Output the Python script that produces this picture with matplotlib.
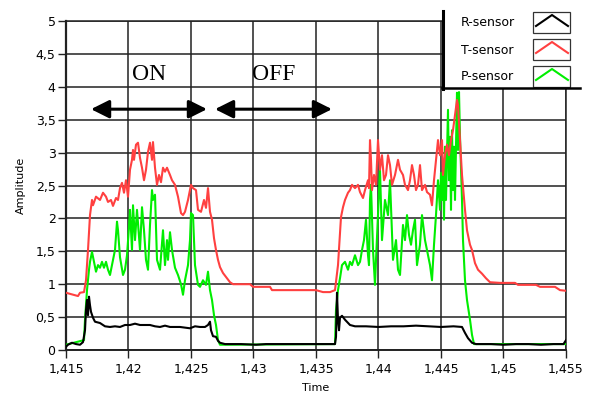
import matplotlib
matplotlib.use("Agg")
import matplotlib.pyplot as plt
from matplotlib.patches import Rectangle
from matplotlib.lines import Line2D
from matplotlib.ticker import FuncFormatter

# ---------------- data ----------------
t_T = [1.41500, 1.41596, 1.41612, 1.41644, 1.41660, 1.41676, 1.41692, 1.41708, 1.41716, 1.41740,
       1.41772, 1.41796, 1.41820, 1.41836, 1.41860, 1.41876, 1.41900, 1.41916, 1.41932, 1.41948,
       1.41964, 1.41980, 1.41996, 1.42012, 1.42028, 1.42036, 1.42044, 1.42060, 1.42076, 1.42092,
       1.42108, 1.42124, 1.42140, 1.42156, 1.42172, 1.42188, 1.42196, 1.42212, 1.42228, 1.42244,
       1.42260, 1.42276, 1.42292, 1.42308, 1.42332, 1.42348, 1.42372, 1.42396, 1.42420, 1.42436,
       1.42452, 1.42476, 1.42500, 1.42516, 1.42540, 1.42556, 1.42580, 1.42604, 1.42620, 1.42636,
       1.42652, 1.42668, 1.42684, 1.42700, 1.42716, 1.42732, 1.42756, 1.42788, 1.42812, 1.42836,
       1.42972, 1.42996, 1.43132, 1.43148, 1.43500, 1.43556, 1.43612, 1.43652, 1.43676, 1.43700,
       1.43716, 1.43732, 1.43756, 1.43772, 1.43788, 1.43812, 1.43836, 1.43852, 1.43876, 1.43892,
       1.43916, 1.43924, 1.43932, 1.43940, 1.43948, 1.43964, 1.43980, 1.43996, 1.44012, 1.44028,
       1.44044, 1.44060, 1.44076, 1.44092, 1.44108, 1.44132, 1.44156, 1.44172, 1.44196, 1.44212,
       1.44236, 1.44252, 1.44268, 1.44284, 1.44300, 1.44316, 1.44332, 1.44348, 1.44372, 1.44388,
       1.44412, 1.44428, 1.44444, 1.44460, 1.44476, 1.44492, 1.44508, 1.44516, 1.44532, 1.44548,
       1.44564, 1.44580, 1.44596, 1.44612, 1.44628, 1.44636, 1.44652, 1.44668, 1.44692, 1.44708,
       1.44732, 1.44748, 1.44772, 1.44796, 1.44828, 1.44860, 1.44892, 1.44972, 1.45092, 1.45116,
       1.45260, 1.45292, 1.45412, 1.45452, 1.45500]
T_sensor = [0.87, 0.82, 0.87, 0.88, 1.06, 1.52, 2.05, 2.28, 2.20, 2.33,
            2.28, 2.39, 2.33, 2.25, 2.28, 2.19, 2.31, 2.28, 2.46, 2.54,
            2.39, 2.58, 2.33, 2.74, 2.89, 3.04, 2.89, 3.12, 3.15, 2.92,
            2.77, 2.58, 2.74, 3.01, 3.15, 2.89, 3.16, 2.77, 2.51, 2.66,
            2.55, 2.77, 2.71, 2.77, 2.66, 2.58, 2.51, 2.33, 2.08, 2.05,
            2.10, 2.28, 2.51, 2.46, 2.43, 2.13, 2.10, 2.28, 2.16, 2.46,
            2.10, 1.98, 1.70, 1.52, 1.37, 1.26, 1.17, 1.09, 1.03, 1.00,
            1.00, 0.96, 0.96, 0.91, 0.91, 0.88, 0.88, 0.91, 1.29, 2.02,
            2.17, 2.28, 2.39, 2.43, 2.51, 2.46, 2.51, 2.40, 2.31, 2.43,
            2.58, 2.46, 3.19, 2.89, 2.43, 2.66, 2.51, 3.19, 2.74, 2.96,
            2.58, 2.66, 2.96, 2.81, 2.51, 2.66, 2.89, 2.74, 2.66, 2.51,
            2.43, 2.58, 2.81, 2.66, 2.43, 2.51, 2.81, 2.43, 2.51, 2.40,
            2.36, 2.20, 2.58, 2.89, 3.19, 2.96, 3.19, 2.66, 2.96, 3.12,
            2.96, 3.19, 3.34, 3.57, 3.80, 3.72, 3.19, 2.66, 2.13, 1.82,
            1.60, 1.52, 1.32, 1.22, 1.16, 1.09, 1.03, 1.02, 1.02, 0.99,
            0.99, 0.96, 0.96, 0.91, 0.90]

t_R = [1.41500, 1.41516, 1.41548, 1.41580, 1.41612, 1.41636, 1.41652, 1.41660, 1.41668, 1.41676,
       1.41684, 1.41692, 1.41700, 1.41716, 1.41732, 1.41772, 1.41812, 1.41852, 1.41892, 1.41932,
       1.41972, 1.42012, 1.42052, 1.42092, 1.42132, 1.42172, 1.42212, 1.42252, 1.42292, 1.42332,
       1.42372, 1.42412, 1.42452, 1.42492, 1.42532, 1.42572, 1.42612, 1.42636, 1.42652, 1.42660,
       1.42676, 1.42700, 1.42716, 1.42732, 1.42772, 1.42900, 1.43020, 1.43100, 1.43250, 1.43400,
       1.43652, 1.43660, 1.43668, 1.43676, 1.43684, 1.43692, 1.43708, 1.43732, 1.43772, 1.43812,
       1.43900, 1.44000, 1.44100, 1.44200, 1.44300, 1.44400, 1.44500, 1.44600, 1.44668, 1.44692,
       1.44716, 1.44748, 1.44780, 1.44900, 1.45000, 1.45100, 1.45200, 1.45300, 1.45400, 1.45480,
       1.45500]
R_sensor = [0.05, 0.08, 0.11, 0.09, 0.08, 0.12, 0.30, 0.61, 0.76, 0.53,
            0.81, 0.68, 0.58, 0.49, 0.43, 0.41, 0.36, 0.35, 0.36, 0.35,
            0.38, 0.38, 0.40, 0.38, 0.38, 0.38, 0.36, 0.35, 0.37, 0.35,
            0.35, 0.35, 0.34, 0.33, 0.36, 0.35, 0.35, 0.38, 0.43, 0.30,
            0.21, 0.20, 0.14, 0.11, 0.09, 0.09, 0.08, 0.09, 0.09, 0.09,
            0.09, 0.20, 0.87, 0.46, 0.30, 0.49, 0.52, 0.46, 0.38, 0.36,
            0.36, 0.35, 0.36, 0.36, 0.37, 0.36, 0.35, 0.36, 0.35, 0.26,
            0.18, 0.11, 0.09, 0.09, 0.08, 0.09, 0.09, 0.08, 0.09, 0.09,
            0.15]

t_P = [1.41500, 1.41644, 1.41652, 1.41668, 1.41684, 1.41692, 1.41708, 1.41724, 1.41740, 1.41756,
       1.41772, 1.41788, 1.41804, 1.41820, 1.41836, 1.41852, 1.41868, 1.41892, 1.41908, 1.41916,
       1.41932, 1.41956, 1.41972, 1.41988, 1.42004, 1.42012, 1.42028, 1.42036, 1.42052, 1.42068,
       1.42092, 1.42108, 1.42124, 1.42140, 1.42156, 1.42172, 1.42188, 1.42196, 1.42212, 1.42228,
       1.42252, 1.42276, 1.42292, 1.42308, 1.42316, 1.42332, 1.42348, 1.42372, 1.42396, 1.42420,
       1.42436, 1.42452, 1.42476, 1.42492, 1.42500, 1.42516, 1.42532, 1.42556, 1.42572, 1.42596,
       1.42620, 1.42636, 1.42652, 1.42668, 1.42684, 1.42700, 1.42716, 1.42732, 1.43652, 1.43660,
       1.43676, 1.43692, 1.43708, 1.43732, 1.43756, 1.43772, 1.43788, 1.43812, 1.43836, 1.43852,
       1.43868, 1.43884, 1.43900, 1.43916, 1.43924, 1.43932, 1.43940, 1.43956, 1.43972, 1.43980,
       1.43996, 1.44012, 1.44028, 1.44052, 1.44076, 1.44092, 1.44116, 1.44140, 1.44156, 1.44172,
       1.44196, 1.44212, 1.44228, 1.44244, 1.44260, 1.44276, 1.44292, 1.44308, 1.44332, 1.44348,
       1.44372, 1.44388, 1.44412, 1.44428, 1.44444, 1.44460, 1.44476, 1.44492, 1.44500, 1.44508,
       1.44516, 1.44524, 1.44532, 1.44540, 1.44556, 1.44564, 1.44572, 1.44580, 1.44588, 1.44596,
       1.44604, 1.44612, 1.44628, 1.44636, 1.44644, 1.44652, 1.44660, 1.44668, 1.44676, 1.44692,
       1.44708, 1.44732, 1.44748, 1.44764, 1.45500]
P_sensor = [0.08, 0.15, 0.46, 0.91, 1.22, 1.34, 1.49, 1.34, 1.19, 1.29,
            1.25, 1.34, 1.25, 1.34, 1.22, 1.14, 1.29, 1.52, 1.95, 1.82,
            1.41, 1.14, 1.22, 1.44, 1.87, 2.13, 1.52, 2.20, 1.67, 2.13,
            1.52, 2.17, 1.82, 1.37, 1.22, 1.90, 2.43, 2.28, 2.36, 1.37,
            1.22, 1.82, 1.29, 1.67, 1.37, 1.79, 1.52, 1.25, 1.14, 1.00,
            0.84, 1.06, 1.29, 1.67, 2.08, 2.05, 1.29, 0.99, 0.96, 1.06,
            0.99, 1.19, 0.91, 0.76, 0.53, 0.38, 0.15, 0.08, 0.09, 0.61,
            0.91, 1.09, 1.29, 1.34, 1.22, 1.34, 1.29, 1.44, 1.29, 1.34,
            1.52, 1.67, 1.98, 1.44, 1.29, 2.28, 2.51, 1.52, 0.99, 1.37,
            2.05, 2.74, 1.67, 2.28, 2.05, 2.58, 1.37, 1.67, 1.22, 1.14,
            1.90, 1.67, 2.05, 1.75, 1.60, 1.82, 1.98, 1.29, 1.60, 2.05,
            1.67, 1.52, 1.29, 1.06, 1.60, 2.05, 2.58, 2.13, 2.69, 2.28,
            2.78, 1.98, 3.09, 2.28, 3.65, 2.58, 3.24, 2.13, 3.34, 2.43,
            3.09, 2.28, 3.91, 3.04, 3.92, 3.24, 2.74, 2.28, 1.67, 1.06,
            0.76, 0.46, 0.23, 0.09, 0.09]

x_ticks = [1.415, 1.42, 1.425, 1.43, 1.435, 1.44, 1.445, 1.45, 1.455]
y_ticks = [0, 0.5, 1, 1.5, 2, 2.5, 3, 3.5, 4, 4.5, 5]
series_names = ["R-sensor", "T-sensor", "P-sensor"]
series_colors = ["#000000", "#FF4040", "#00EE00"]
on_span = (1.41700, 1.42628)
off_span = (1.42692, 1.43628)
arrow_level = 3.66

# ---------------- figure ----------------
W, H = 590, 397
fig = plt.figure(figsize=(W / 100, H / 100), dpi=100)
fig.patch.set_facecolor("white")
ax = fig.add_axes([66 / W, 1 - 350 / H, 500 / W, 329 / H])

ax.plot(t_P, P_sensor, color=series_colors[2], lw=1.5, zorder=3)
ax.plot(t_T, T_sensor, color=series_colors[1], lw=1.5, zorder=4)
ax.plot(t_R, R_sensor, color=series_colors[0], lw=1.5, zorder=5)

ax.set_xlim(x_ticks[0], x_ticks[-1])
ax.set_ylim(y_ticks[0], y_ticks[-1])
ax.set_xticks(x_ticks)
ax.set_yticks(y_ticks)
fmt = FuncFormatter(lambda v, p: ("%g" % round(v, 4)).replace(".", ","))
ax.xaxis.set_major_formatter(fmt)
ax.yaxis.set_major_formatter(fmt)
ax.tick_params(axis="both", labelsize=9, length=5.5, width=1, color="#222222")
ax.tick_params(axis="y", pad=2)
ax.tick_params(axis="x", pad=4)
ax.grid(True, color="#222222", lw=1.1, zorder=1)
ax.set_axisbelow(True)
for s in ax.spines.values():
    s.set_color("#222222")
    s.set_linewidth(1.1)
ax.spines["left"].set_linewidth(1.6)
ax.spines["bottom"].set_linewidth(1.4)
ax.set_xlabel("Time", fontsize=8, labelpad=5)
ax.set_ylabel("Amplitude", fontsize=8, labelpad=7)

# ON / OFF annotations
for span, label in [(on_span, "ON"), (off_span, "OFF")]:
    ax.annotate("", xy=(span[0], arrow_level), xytext=(span[1], arrow_level),
                arrowprops=dict(arrowstyle="<|-|>,head_length=1.1,head_width=0.55",
                                mutation_scale=10, lw=2.2, color="black",
                                shrinkA=0, shrinkB=0), zorder=6)
    ax.text((span[0] + span[1]) / 2, 4.18, label, ha="center", va="center",
            family="Liberation Serif", fontsize=17, zorder=6)

# ---------------- legend (LabVIEW style) ----------------
ov = fig.add_axes([0, 0, 1, 1], zorder=10)
ov.set_xlim(0, W)
ov.set_ylim(H, 0)
ov.axis("off")
ov.add_patch(Rectangle((443, 5), 140, 83, facecolor="white", edgecolor="none"))
ov.add_line(Line2D([443, 443], [11, 88.5], color="black", lw=2.2))
ov.add_line(Line2D([442, 580], [88, 88], color="black", lw=1.8))
rows = [(12, 33), (39, 60), (66, 87)]
for name, col, (y0, y1) in zip(series_names, series_colors, rows):
    ov.text(461, (y0 + y1) / 2 + 0.5, name, fontsize=9, va="center", ha="left")
    ov.add_patch(Rectangle((533, y0), 37, y1 - y0, facecolor="white",
                           edgecolor="#333333", lw=0.9))
    ov.add_line(Line2D([536, 552, 568], [y1 - 7, y0 + 3, y1 - 7],
                       color=col, lw=1.5))

fig.savefig("out.png", dpi=100)
